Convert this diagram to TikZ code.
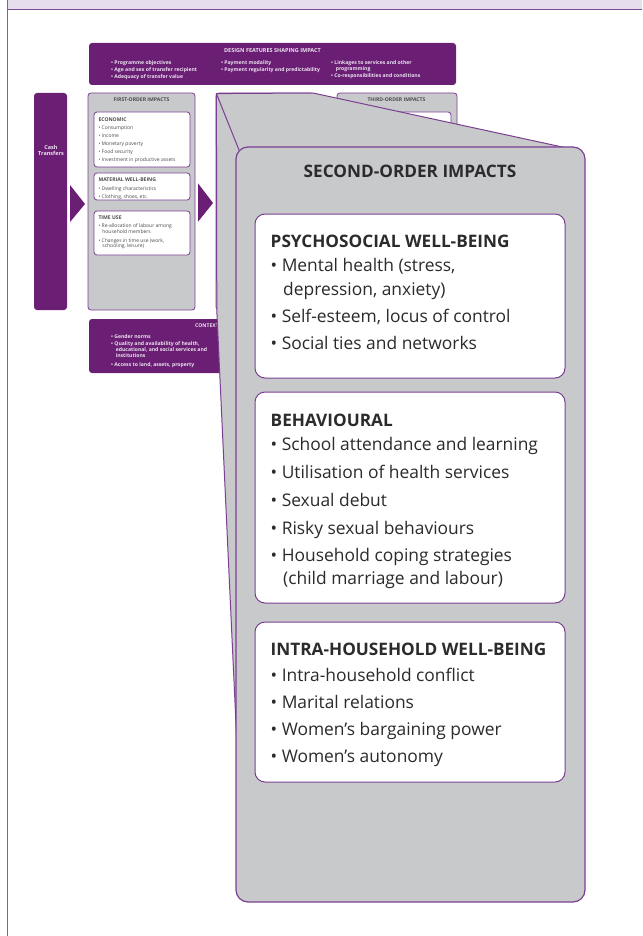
\documentclass[tikz,border=0pt]{standalone}
\usepackage{fontspec}
\setmainfont{Open Sans}
\usetikzlibrary{calc}

\definecolor{plum}{HTML}{6A1E74}
\definecolor{edge}{HTML}{7B3F92}
\definecolor{panel}{HTML}{C8C9CB}
\definecolor{band}{HTML}{E6DEEC}
\definecolor{bandline}{HTML}{7E4E94}
\definecolor{frameline}{HTML}{8D5AA5}
\definecolor{ink}{HTML}{2B2A2C}
\definecolor{inksmall}{HTML}{4B4B4D}
\definecolor{inklight}{HTML}{ECE3F0}

\tikzset{
  plumbox/.style={fill=plum, draw=none, rounded corners=3pt, inner sep=0pt, outer sep=0pt, anchor=north west},
  graybox/.style={fill=panel, draw=edge, line width=0.8pt, rounded corners=3pt, inner sep=0pt, outer sep=0pt, anchor=north west},
  whitebox/.style={fill=white, draw=edge, line width=0.8pt, rounded corners=3pt, inner sep=0pt, outer sep=0pt, anchor=north west},
  bigpanel/.style={fill=panel, draw=edge, line width=1.2pt, rounded corners=12pt, inner sep=0pt, outer sep=0pt, anchor=north west},
  bigwhite/.style={fill=white, draw=edge, line width=1pt, rounded corners=10pt, inner sep=0pt, outer sep=0pt, anchor=north west},
  calloutline/.style={draw=edge, line width=1pt, line join=round},
  chevron/.style={fill=plum, draw=none},
  tinyhead/.style={font=\bfseries\fontsize{5.1}{6}\selectfont, text=inksmall, inner sep=0pt, anchor=base},
  tinytitle/.style={font=\bfseries\fontsize{5.1}{6}\selectfont, text=inksmall, inner sep=0pt, anchor=base west},
  tinytxt/.style={font=\fontsize{5}{6}\selectfont, text=inksmall, inner sep=0pt, anchor=base west},
  plumhead/.style={font=\bfseries\fontsize{5.5}{6}\selectfont, text=inklight, inner sep=0pt, anchor=base},
  plumtxt/.style={font=\bfseries\fontsize{5.1}{6}\selectfont, text=inklight, inner sep=0pt, anchor=base west},
  bighead/.style={font=\bfseries\fontsize{17.2}{20}\selectfont, text=ink, inner sep=0pt, anchor=base},
  boxhead/.style={font=\bfseries\fontsize{17.2}{20}\selectfont, text=ink, inner sep=0pt, anchor=base west},
  boxtxt/.style={font=\fontsize{17.4}{20}\selectfont, text=ink, inner sep=0pt, anchor=base west},
}

\begin{document}
\begin{tikzpicture}[x=1pt, y=-1pt]
\useasboundingbox (0,0) rectangle (642,936);

% page frame: header band and left rule
\fill[band] (7,0) rectangle (642,9);
\draw[bandline, line width=1.3pt] (7,9.2) -- (642,9.2);
\draw[frameline, line width=1.4pt] (7.5,0) -- (7.5,936);

% design features
\node[plumbox, minimum width=367pt, minimum height=42pt] (design) at (89,43) {};
\node[plumhead] (designT) at (272.5,53) {DESIGN FEATURES SHAPING IMPACT};
\node[plumtxt] (d1) at (111,64.1) {• Programme objectives};
\node[plumtxt] (d2) at (111,71.1) {• Age and sex of transfer recipient};
\node[plumtxt] (d3) at (111,78.8) {• Adequacy of transfer value};
\node[plumtxt] (d4) at (221,64.1) {• Payment modality};
\node[plumtxt] (d5) at (221,71.1) {• Payment regularity and predictability};
\node[plumtxt] (d6) at (331,64.1) {• Linkages to services and other};
\node[plumtxt] (d7) at (335.6,70.5) {programming};
\node[plumtxt] (d8) at (331,77.8) {• Co-responsibilities and conditions};

% context
\node[plumbox, minimum width=367pt, minimum height=54pt] (context) at (89,319) {};
\node[plumtxt] (contextT) at (195,327.5) {CONTEXT};
\node[plumtxt] (c1) at (111,338.5) {• Gender norms};
\node[plumtxt] (c2) at (111,345.1) {• Quality and availability of health,};
\node[plumtxt] (c3) at (115.6,351.1) {educational, and social services and};
\node[plumtxt] (c4) at (115.6,357.5) {institutions};
\node[plumtxt] (c5) at (111,366.1) {• Access to land, assets, property};

% cash transfers
\node[plumbox, minimum width=33pt, minimum height=217pt] (cash) at (34,93) {};
\node[plumhead, font=\bfseries\fontsize{5.5}{6.5}\selectfont, align=center, anchor=center] (cashT) at (51,150.3) {Cash\\[-0.4pt]Transfers};

% first-order impacts
\node[graybox, minimum width=107pt, minimum height=217pt] (first) at (88,93) {};
\node[tinyhead] (firstT) at (141.5,101.8) {FIRST-ORDER IMPACTS};
\node[whitebox, minimum width=96pt, minimum height=55pt] (eco) at (94,112) {};
\node[tinytitle] (ecoT) at (98.3,121.1) {ECONOMIC};
\node[tinytxt] (e1) at (98.3,129.5) {• Consumption};
\node[tinytxt] (e2) at (98.3,137.8) {• Income};
\node[tinytxt] (e3) at (98.3,145.1) {• Monetary poverty};
\node[tinytxt] (e4) at (98.3,153.1) {• Food security};
\node[tinytxt] (e5) at (98.3,161.1) {• Investment in productive assets};
\node[whitebox, minimum width=96pt, minimum height=27pt] (mat) at (94,173) {};
\node[tinytitle] (matT) at (98.3,181.8) {MATERIAL WELL-BEING};
\node[tinytxt] (m1) at (98.3,190.1) {• Dwelling characteristics};
\node[tinytxt] (m2) at (98.3,198.5) {• Clothing, shoes, etc.};
\node[whitebox, minimum width=96pt, minimum height=44pt] (time) at (94,211) {};
\node[tinytitle] (timeT) at (98.3,219.1) {TIME USE};
\node[tinytxt] (t1) at (98.3,227.8) {• Re-allocation of labour among};
\node[tinytxt] (t2) at (102.2,233.5) {household members};
\node[tinytxt] (t3) at (98.3,242.5) {• Changes in time use (work,};
\node[tinytxt] (t4) at (102.2,247.8) {schooling, leisure)};

% chevrons between stages
\fill[chevron] ($(cash.east)+(3,-16.5)$) -- ($(cash.east)+(18,2.5)$) -- ($(cash.east)+(3,20.5)$) -- cycle;
\fill[chevron] ($(first.east)+(3,-18.2)$) -- ($(first.east)+(18,1.5)$) -- ($(first.east)+(3,20.2)$) -- cycle;

% third-order impacts
\node[graybox, minimum width=120pt, minimum height=217pt] (third) at (337,93) {};
\node[tinyhead] (thirdT) at (396.5,101.8) {THIRD-ORDER IMPACTS};
\node[whitebox, minimum width=108pt, minimum height=60pt] (thirdbox) at (343,112) {};

% second-order impacts, small stage box
\node[graybox, minimum width=98pt, minimum height=217pt] (second) at (216,93) {};

% enlarged second-order panel and its callout
\path (236,147) coordinate (soNW) (585,147) coordinate (soNE) (236,902) coordinate (soSW);
\coordinate (ca) at ($(second.north west)+(0.4,0.6)$);
\coordinate (cb) at ($(second.north east)+(-1,0)$);
\coordinate (cd) at ($(soNW)+(3,3)$);
\coordinate (ce) at ($(soNE)+(-20,0.6)$);
\coordinate (cf) at ($(second.south west)+(0.8,0)$);
\coordinate (cg) at ($(soNW)+(0.5,588)$);
\fill[panel] (ca) -- (cb) -- (ce) -- (570,165) -- (570,880) -- (250,880) -- (cg) -- (cf) -- cycle;
\draw[calloutline] (cd) -- (ca) -- (cb) -- (ce);
\draw[calloutline] (ca) -- (cf) -- (cg);

\node[bigpanel, minimum width=349pt, minimum height=755pt] (so) at (soNW) {};
\node[bighead] (soT) at (410,177.5) {SECOND-ORDER IMPACTS};

\node[bigwhite, minimum width=310pt, minimum height=164pt] (psy) at (255,214) {};
\node[boxhead] (psyT) at (270.5,247) {PSYCHOSOCIAL WELL-BEING};
\node[boxtxt] (p1) at (270.5,271.5) {• Mental health (stress,};
\node[boxtxt] (p2) at (283,295.5) {depression, anxiety)};
\node[boxtxt] (p3) at (270.5,322.5) {• Self-esteem, locus of control};
\node[boxtxt] (p4) at (270.5,349.5) {• Social ties and networks};

\node[bigwhite, minimum width=310pt, minimum height=211pt] (beh) at (255,392) {};
\node[boxhead] (behT) at (270.5,426) {BEHAVIOURAL};
\node[boxtxt] (h1) at (270.5,450.5) {• School attendance and learning};
\node[boxtxt] (h2) at (270.5,478.5) {• Utilisation of health services};
\node[boxtxt] (h3) at (270.5,506.5) {• Sexual debut};
\node[boxtxt] (h4) at (270.5,534.5) {• Risky sexual behaviours};
\node[boxtxt] (h5) at (270.5,561.5) {• Household coping strategies};
\node[boxtxt] (h6) at (283,584.5) {(child marriage and labour)};

\node[bigwhite, minimum width=310pt, minimum height=160pt] (intra) at (255,622) {};
\node[boxhead] (intraT) at (270.5,655) {INTRA-HOUSEHOLD WELL-BEING};
\node[boxtxt] (i1) at (270.5,681.5) {• Intra-household conflict};
\node[boxtxt] (i2) at (270.5,708.5) {• Marital relations};
\node[boxtxt] (i3) at (270.5,735.5) {• Women’s bargaining power};
\node[boxtxt] (i4) at (270.5,762.5) {• Women’s autonomy};
\end{tikzpicture}
\end{document}
